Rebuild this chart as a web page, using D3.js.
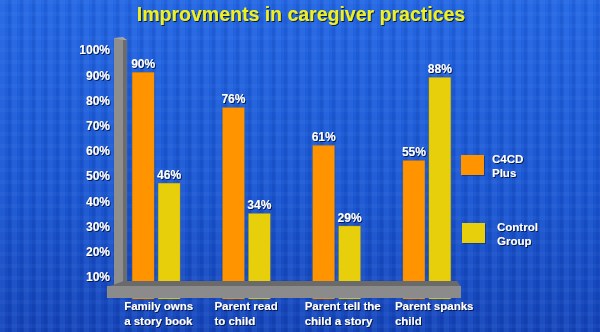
<!DOCTYPE html>
<html><head><meta charset="utf-8">
<script src="https://cdn.jsdelivr.net/npm/d3@7"></script>
<style>
html,body{margin:0;padding:0;background:#1a52c8;overflow:hidden}
svg{display:block;font-family:"Liberation Sans",Arial,sans-serif;font-weight:bold}
</style></head>
<body>
<svg id="chart" width="600" height="332"></svg>
<script>
const categories = ["Family owns|a story book", "Parent read|to child", "Parent tell the|child a story", "Parent spanks|child"];
const seriesNames = ["C4CD Plus", "Control Group"];
const c4cdPlus = [90, 76, 61, 55];
const controlGroup = [46, 34, 29, 88];
const yTicks = [10, 20, 30, 40, 50, 60, 70, 80, 90, 100];
const title = "Improvments in caregiver practices";

const colors = {"C4CD Plus": "#ff9400", "Control Group": "#e8cf0c"};
const W = 600, H = 332;
const svg = d3.select("#chart");
const defs = svg.append("defs");

// background
const bg = defs.append("linearGradient").attr("id","bg").attr("x1",0).attr("y1",0).attr("x2",0).attr("y2",1);
bg.append("stop").attr("offset","0%").attr("stop-color","#2366e2");
bg.append("stop").attr("offset","60%").attr("stop-color","#1a55cf");
bg.append("stop").attr("offset","100%").attr("stop-color","#1443b6");
const pat = defs.append("pattern").attr("id","plaid").attr("patternUnits","userSpaceOnUse").attr("width",12).attr("height",12);
pat.append("rect").attr("x",0).attr("y",0).attr("width",5).attr("height",12).attr("fill","#6fa0ff").attr("opacity",0.10);
pat.append("rect").attr("x",8).attr("y",0).attr("width",3).attr("height",12).attr("fill","#001060").attr("opacity",0.10);
pat.append("rect").attr("x",0).attr("y",0).attr("width",12).attr("height",4).attr("fill","#6fa0ff").attr("opacity",0.06);
const sh = defs.append("filter").attr("id","shadow").attr("x","-20%").attr("y","-20%").attr("width","140%").attr("height","140%");
sh.append("feDropShadow").attr("dx",1).attr("dy",1).attr("stdDeviation",0.6).attr("flood-color","#001030").attr("flood-opacity",0.85);

svg.append("rect").attr("width",W).attr("height",H).attr("fill","url(#bg)");
svg.append("rect").attr("width",W).attr("height",H).attr("fill","url(#plaid)");

// title
svg.append("text").attr("x",301).attr("y",21).attr("text-anchor","middle")
  .attr("font-size",19.5).attr("fill","#f0f01c").attr("filter","url(#shadow)").text(title);

// scales
const y = d3.scaleLinear().domain([0, 100]).range([299, 47]);
const x0 = d3.scaleBand().domain(categories).range([111, 472]);
const x1 = d3.scaleBand().domain(seriesNames).range([-24, 24]).paddingInner(0.15);

// back wall
svg.append("rect").attr("x",114).attr("y",38).attr("width",10).attr("height",248).attr("fill","#8e8e8e");
svg.append("rect").attr("x",123).attr("y",40).attr("width",4).attr("height",244).attr("fill","#6c6c6c");
svg.append("polygon").attr("points","114,38 123,37 127,40 123,40").attr("fill","#a5a5a5");

// bars
const data = categories.map((c, i) => ({cat: c, values: [
  {s: seriesNames[0], v: c4cdPlus[i]},
  {s: seriesNames[1], v: controlGroup[i]}]}));
const groups = svg.append("g").selectAll("g").data(data).join("g")
  .attr("transform", d => `translate(${x0(d.cat) + x0.bandwidth()/2},0)`);
groups.selectAll("rect").data(d => d.values).join("rect")
  .attr("x", d => x1(d.s)).attr("width", x1.bandwidth())
  .attr("y", d => y(d.v)).attr("height", d => y(0) - y(d.v))
  .attr("fill", d => colors[d.s]).attr("stroke","#7a6a20").attr("stroke-width",0.5).attr("stroke-opacity",0.6);
groups.selectAll("text.val").data(d => d.values).join("text").attr("class","val")
  .attr("x", d => x1(d.s) + x1.bandwidth()/2).attr("y", d => y(d.v) - 4)
  .attr("text-anchor","middle").attr("font-size",12).attr("fill","#ffffff")
  .attr("filter","url(#shadow)").text(d => d.v + "%");

// floor
svg.append("polygon").attr("points","107,287 124,281 457,281 461,287").attr("fill","#6a6a6a");
svg.append("rect").attr("x",107).attr("y",286).attr("width",354).attr("height",12).attr("fill","#8b8b8b");

// y axis labels
const yAxis = d3.axisLeft(y).tickValues(yTicks).tickFormat(d => d + "%").tickSize(0).tickPadding(0);
const ya = svg.append("g").attr("transform","translate(110,3)").call(yAxis);
ya.select(".domain").remove();
ya.selectAll("text").attr("font-size",12).attr("font-family","Liberation Sans, Arial, sans-serif")
  .attr("font-weight","bold").attr("fill","#ffffff").attr("filter","url(#shadow)");

// category labels
const cl = svg.append("g").selectAll("text").data(categories).join("text")
  .attr("x", d => x0(d) + x0.bandwidth()/2 - 32).attr("y", 310)
  .attr("font-size",11.5).attr("fill","#ffffff").attr("filter","url(#shadow)");
cl.selectAll("tspan").data(d => d.split("|")).join("tspan")
  .attr("x", function(){ return d3.select(this.parentNode).attr("x"); })
  .attr("dy", (d, i) => i === 0 ? 0 : 15).text(d => d);

// legend
const legendPos = [{x:461, y:155}, {x:462, y:223}];
const lg = svg.append("g").selectAll("g").data(seriesNames).join("g")
  .attr("transform", (d, i) => `translate(${legendPos[i].x},${legendPos[i].y})`);
lg.append("rect").attr("x",1).attr("y",1).attr("width",23).attr("height",20).attr("fill","#0a2a70").attr("opacity",0.6);
lg.append("rect").attr("width",23).attr("height",20).attr("fill", d => colors[d]);
const lt = lg.append("text").attr("x", (d, i) => i === 0 ? 31 : 35).attr("y", 8)
  .attr("font-size",11.5).attr("fill","#ffffff").attr("filter","url(#shadow)");
lt.selectAll("tspan").data(d => d === "C4CD Plus" ? ["C4CD","Plus"] : ["Control","Group"]).join("tspan")
  .attr("x", function(){ return d3.select(this.parentNode).attr("x"); })
  .attr("dy", (d, i) => i === 0 ? 0 : 14).text(d => d);
</script>
</body></html>
